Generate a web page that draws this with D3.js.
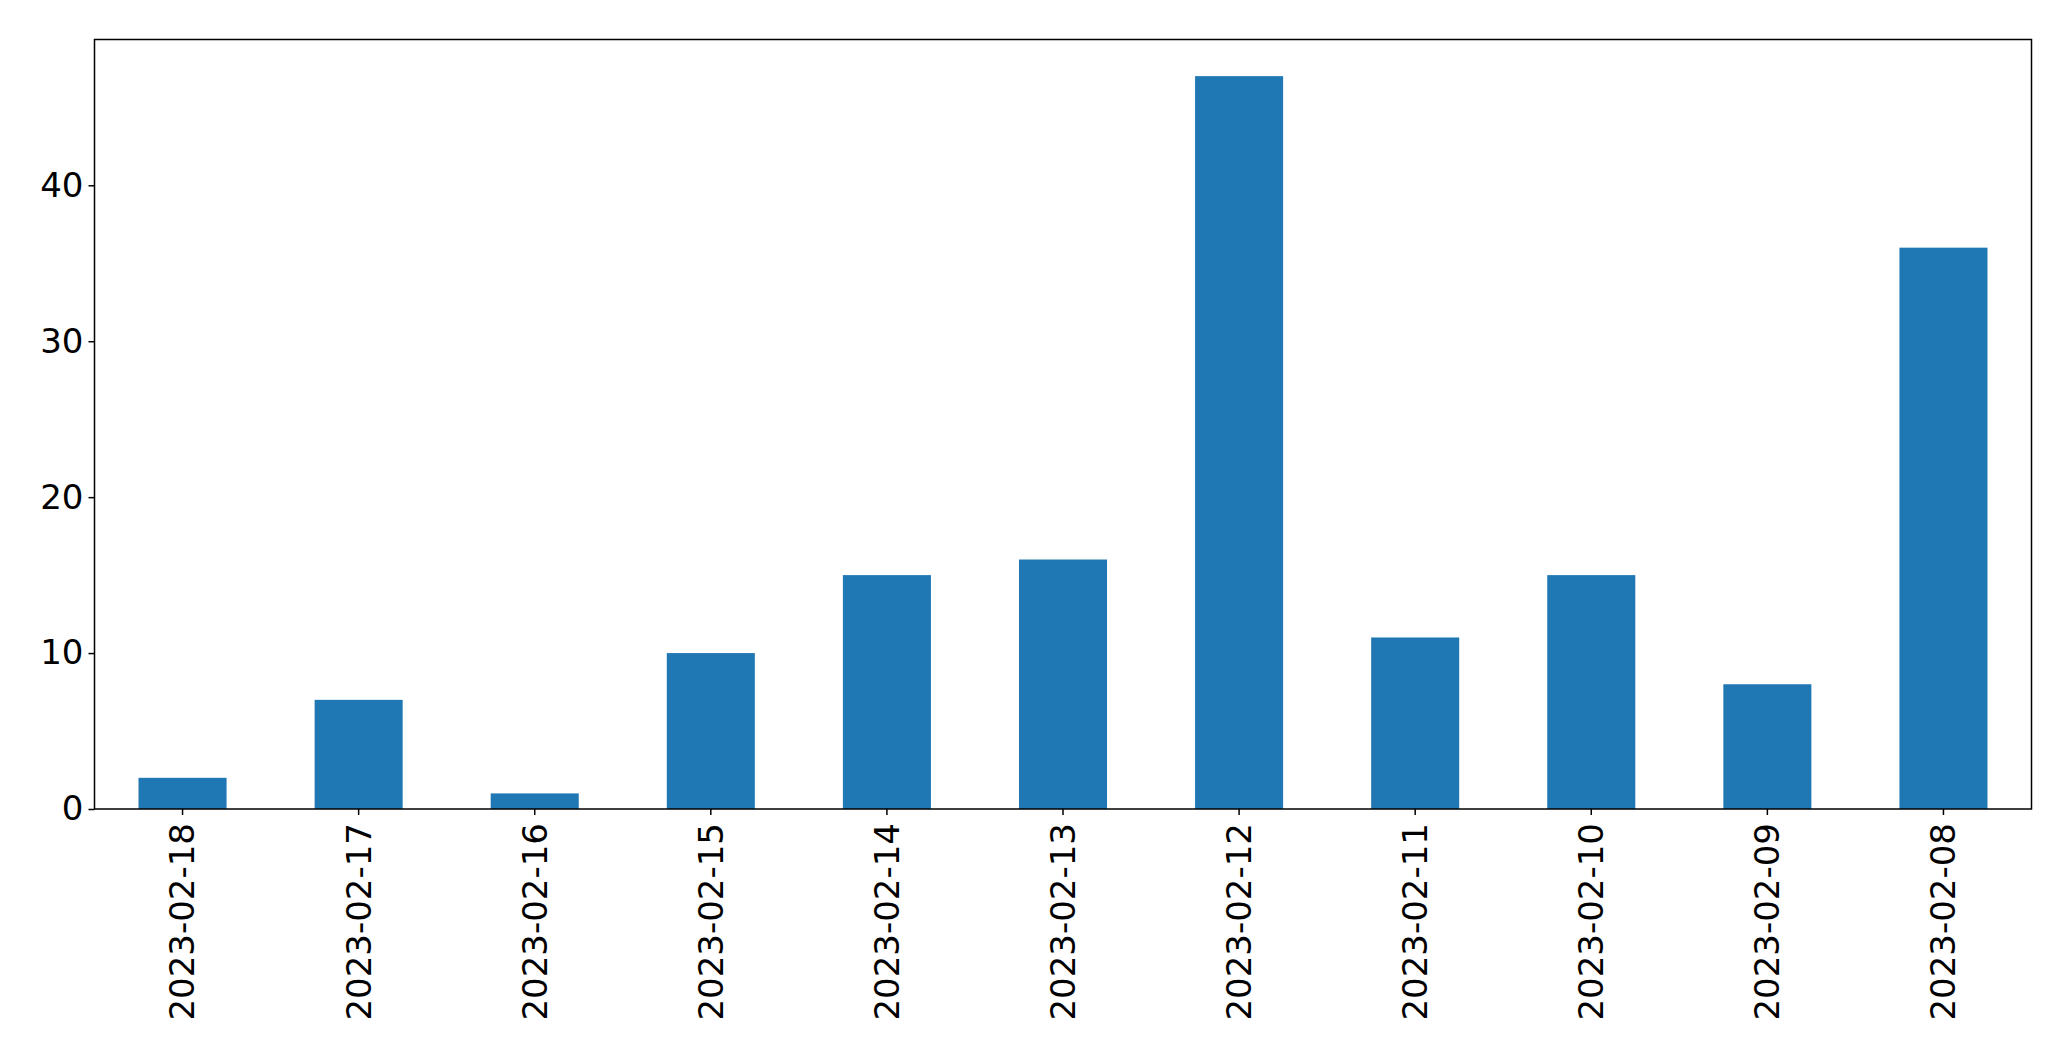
<!DOCTYPE html>
<html>
<head>
<meta charset="utf-8">
<script src="https://cdn.jsdelivr.net/npm/d3@7"></script>
<style>
  body { margin: 0; background: #fff; }
  text { font-family: "DejaVu Sans", sans-serif; }
</style>
</head>
<body>
<script>
// bar data
const dates = ["2023-02-18", "2023-02-17", "2023-02-16", "2023-02-15", "2023-02-14",
               "2023-02-13", "2023-02-12", "2023-02-11", "2023-02-10", "2023-02-09", "2023-02-08"];
const counts = [2, 7, 1, 10, 15, 16, 47, 11, 15, 8, 36];
const yTicks = [0, 10, 20, 30, 40];

let width = 2071,
    height = 1061;

let margin = {left: 94.5, top: 39.5, right: width - 2031.5, bottom: height - 809};
let innerW = width - margin.left - margin.right,
    innerH = height - margin.top - margin.bottom;

let svg = d3.select("body")
  .append("svg")
  .attr("width", width)
  .attr("height", height);

let g = svg.append("g")
  .attr("transform", `translate(${margin.left},${margin.top})`);

// pandas-style bar: slots of 1, bar width 0.5
let x = d3.scaleBand()
  .domain(dates)
  .range([0, innerW])
  .paddingInner(0.5)
  .paddingOuter(0.25);

let y = d3.scaleLinear()
  .domain([0, d3.max(counts) * 1.05])
  .range([innerH, 0]);

g.selectAll("rect.bar")
  .data(dates)
  .enter().append("rect")
  .attr("class", "bar")
  .attr("x", d => x(d))
  .attr("width", x.bandwidth())
  .attr("y", (d, i) => y(counts[i]))
  .attr("height", (d, i) => innerH - y(counts[i]))
  .attr("fill", "#1f77b4");

let xAxis = g.append("g")
  .attr("transform", `translate(0,${innerH})`)
  .call(d3.axisBottom(x).tickSizeOuter(0).tickSize(6).tickPadding(8));

xAxis.selectAll("text")
  .attr("font-size", 34)
  .attr("fill", "#000")
  .attr("transform", "rotate(-90)")
  .attr("text-anchor", "end")
  .attr("dy", "0.35em")
  .attr("x", -14)
  .attr("y", 0);

let yAxis = g.append("g")
  .call(d3.axisLeft(y).tickValues(yTicks).tickSizeOuter(0).tickSize(6).tickPadding(5));

yAxis.selectAll("text")
  .attr("font-size", 34)
  .attr("fill", "#000");

g.selectAll(".domain").remove();
g.selectAll(".tick line").attr("stroke", "#000").attr("stroke-width", 1.5);

// frame
g.append("rect")
  .attr("x", 0)
  .attr("y", 0)
  .attr("width", innerW)
  .attr("height", innerH)
  .attr("fill", "none")
  .attr("stroke", "#000")
  .attr("stroke-width", 1.5);
</script>
</body>
</html>
